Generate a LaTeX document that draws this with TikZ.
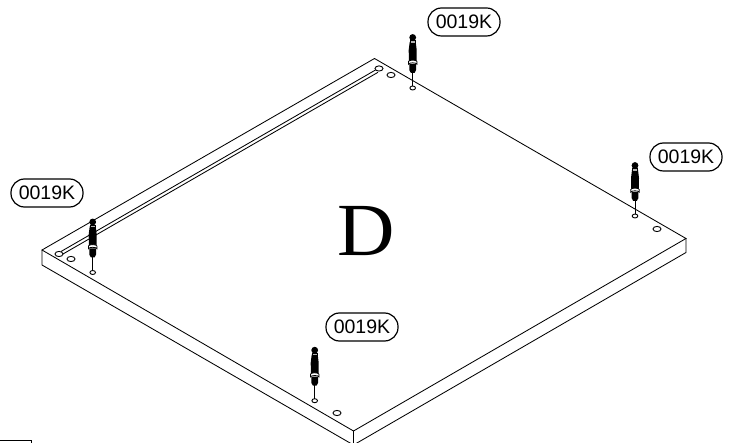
\documentclass[tikz,border=0pt]{standalone}
\usepackage{fontspec}
\setmainfont{Liberation Sans}
\newfontfamily\serifD{Liberation Serif}
\tikzset{
  panel/.style={draw=black,line width=0.85pt,line join=miter},
  hole/.style={draw=black,line width=0.9pt,fill=white},
  pill/.style={draw=black,line width=1.2pt,rounded corners=13.5pt,minimum width=72pt,minimum height=28pt,inner sep=0pt,font=\fontsize{19.5}{19.5}\selectfont},
  screwpart/.pic={
    \draw[line width=0.9pt] (0,-2)--(0,-16);
    \fill[black] (-1.8,-15)--(1.8,-15)--(3.4,-18)--(3.4,-24)--(-3.4,-24)--(-3.4,-18)--cycle;
    \fill[black] (-3.8,-26)--(-4,-38)--(-3,-46)--(3,-46)--(4,-38)--(3.8,-26)--cycle;
    \draw[black,line width=0.8pt,fill=white] (-4.2,-26.5) arc (180:360:4.2 and 1.4) -- (4.2,-23.8) arc (0:-180:4.2 and 1.4) -- cycle;
    \draw[black,line width=0.7pt,fill=white!70!black] (-2.8,-47.5)--(2.8,-47.5)--(2.8,-45)--(-2.8,-45)--cycle;
    \fill[black] (0,-50.5) circle (3.4);
  }
}
\begin{document}
\begin{tikzpicture}[x=1pt,y=-1pt]
\useasboundingbox (0,0) rectangle (741,443);
% panel
\coordinate (L) at (42,250);
\coordinate (T) at (374.5,58.5);
\coordinate (R) at (686,238.5);
\coordinate (B) at (353.5,431);
\coordinate (L2) at (42,265);
\coordinate (R2) at (686,252.5);
\coordinate (B2) at (353.5,445);
\draw[panel] (L)--(T)--(R)--(B)--cycle;
\begin{scope}
\clip (0,0) rectangle (741,443);
\draw[panel] (L)--(L2)--(B2)--(R2)--(R);
\draw[panel] (B)--(B2);
\end{scope}
% groove
\draw[line width=0.85pt] (61,251.5)--(375.5,70);
\draw[line width=0.85pt] (63,254)--(378,72.3);
% holes
\foreach \x/\y in {59/254,71/259,379/68.5,391/75,657/229,337/413}
  \draw[hole] (\x,\y) ellipse (4 and 2.6);
\foreach \x/\y in {92.7/272.5,412.7/88,635/216,314.7/400.7}{
  \draw[hole] (\x,\y) ellipse (2.8 and 2);
  \pic at (\x,\y) {screwpart};
}
% labels
\node[pill] (l1) at (47,193) {0019K};
\node[pill] (l2) at (464,22) {0019K};
\node[pill] (l3) at (686,157) {0019K};
\node[pill] (l4) at (362,327) {0019K};
\node[font=\serifD\fontsize{75}{75}\selectfont,inner sep=0pt,xscale=1.06] (d) at (366.5,231) {D};
% bottom-left fragment
\draw[line width=1pt] (0,440.5)--(31,440.5)--(31,443);
\end{tikzpicture}
\end{document}
